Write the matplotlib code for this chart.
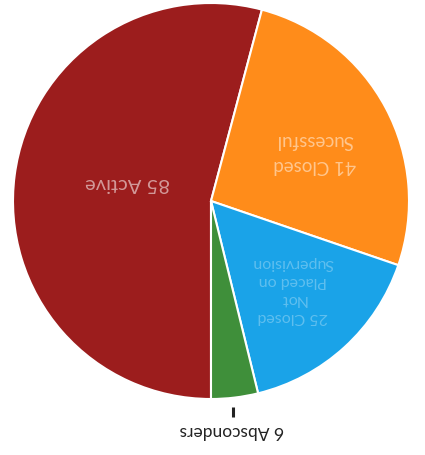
import matplotlib
matplotlib.use("Agg")
import matplotlib.pyplot as plt

plt.rcParams['font.family'] = ['Lato', 'DejaVu Sans']

categories = ["Active", "Closed\nSucessful", "Closed\nNot\nPlaced on\nSupervision", "Absconders"]
values = [85, 41, 25, 6]
colors = ["#9c1d1d", "#ff8c1a", "#1aa3e8", "#3f8f3a"]

fig = plt.figure(figsize=(4.25, 4.55), dpi=100)
ax = fig.add_axes([0, 0, 1, 1])
wedges, _ = ax.pie(values, colors=colors, startangle=-90, counterclock=False,
                   radius=1.0, center=(0, 0),
                   wedgeprops=dict(edgecolor="white", linewidth=1.5))

cx, cy, R = 211, 201, 198
ax.set_xlim(-cx / R, (425 - cx) / R)
ax.set_ylim((cy - 455) / R, cy / R)
ax.set_aspect('auto')
ax.axis('off')

# inside labels (chart appears rotated 180 degrees)
ax.text(-0.42, 0.09, f"{values[0]} {categories[0]}", rotation=180, ha='center', va='center',
        fontsize=14.5, color='white', alpha=0.55)
ax.text(0.525, 0.242, f"{values[1]} {categories[1]}", rotation=180, ha='center', va='center',
        fontsize=13.5, color='white', alpha=0.5, linespacing=1.6, multialignment='center')
ax.text(0.414, -0.45, f"{values[2]} {categories[2]}", rotation=180, ha='center', va='center',
        fontsize=11.5, color='white', alpha=0.3, linespacing=1.35, multialignment='center')

# outside label for the small slice
ax.plot([0.112, 0.112], [-1.04, -1.09], color='#222222', linewidth=2.2, solid_capstyle='butt')
ax.text(0.105, -1.16, f"{values[3]} {categories[3]}", rotation=180, ha='center', va='center',
        fontsize=12.5, color='#222222')

fig.savefig("out.png", dpi=100)
